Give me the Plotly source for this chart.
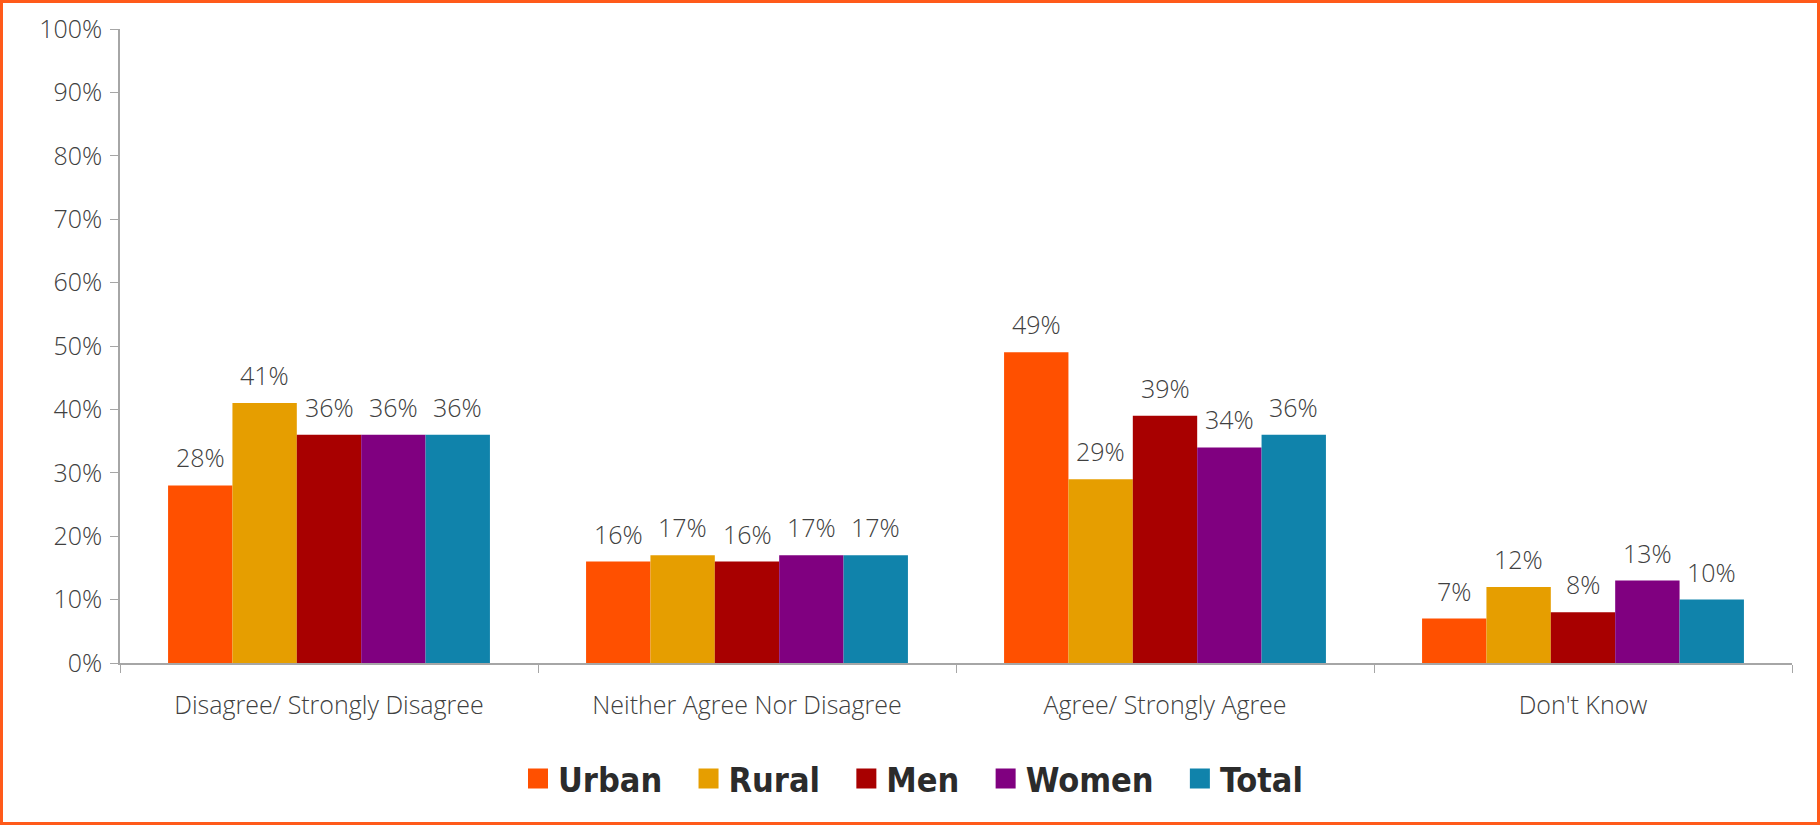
import plotly.graph_objects as go

categories = ["Disagree/ Strongly Disagree", "Neither Agree Nor Disagree", "Agree/ Strongly Agree", "Don't Know"]
series_names = ["Urban", "Rural", "Men", "Women", "Total"]
urban = [28, 16, 49, 7]
rural = [41, 17, 29, 12]
men = [36, 16, 39, 8]
women = [36, 17, 34, 13]
total = [36, 17, 36, 10]
colors = ["#FF5000", "#E69E00", "#A80000", "#800080", "#1083AB"]
y_ticks = [0, 10, 20, 30, 40, 50, 60, 70, 80, 90, 100]

W, H = 1820, 825
ml, mr, mt, mb = 120, 28, 29, 162
pw, ph = W - ml - mr, H - mt - mb
BARGAP = 0.23
LABEL_FONT = dict(family="Open Sans", size=25, color="#404040", weight=300)

all_series = [urban, rural, men, women, total]
n = len(all_series)
bar_px = pw / len(categories) * (1 - BARGAP) / n

fig = go.Figure()
for i, (name, vals, col) in enumerate(zip(series_names, all_series, colors)):
    fig.add_trace(go.Bar(
        name=name, x=categories, y=vals, marker=dict(color=col, line=dict(width=0)),
        showlegend=False, hoverinfo="x+y+name",
    ))
    # legend proxy with a larger square swatch
    fig.add_trace(go.Scatter(
        name=name + "\u00a0\u00a0", x=[None], y=[None], mode="markers",
        marker=dict(symbol="square", size=16, color=col, line=dict(color=col, width=4)),
        showlegend=True,
    ))
    for c, v in zip(categories, vals):
        fig.add_annotation(x=c, y=v, xref="x", yref="y", text=f"{v}%", showarrow=False,
                           xshift=(i - (n - 1) / 2) * bar_px, yshift=9, yanchor="bottom",
                           font=LABEL_FONT)

fig.update_layout(
    width=W, height=H, autosize=False,
    margin=dict(l=ml, r=mr, t=mt, b=mb),
    paper_bgcolor="white", plot_bgcolor="white",
    barmode="group", bargap=BARGAP, bargroupgap=0,
    showlegend=True,
    legend=dict(orientation="h", x=(924 - ml) / pw, xanchor="center",
                y=(H - mb - 779) / ph, yanchor="middle", itemsizing="trace",
                font=dict(family="DejaVu Sans Condensed", size=34, color="#2B2B2B", weight="bold"),
                traceorder="normal"),
    font=LABEL_FONT,
)
fig.update_yaxes(range=[0, 100], tickvals=y_ticks, ticktext=[f"{v}%" for v in y_ticks],
                 showgrid=False, showline=True, linecolor="#A6A6A6", linewidth=1.5,
                 ticks="outside", ticklen=8, tickcolor="#A6A6A6", ticklabelstandoff=3,
                 tickfont=LABEL_FONT, zeroline=False)
fig.update_xaxes(showgrid=False, showline=True, linecolor="#A6A6A6", linewidth=1.5,
                 ticks="outside", ticklen=8, tickcolor="#A6A6A6", tickson="boundaries",
                 ticklabelstandoff=19, tickfont=LABEL_FONT)

fig.add_shape(type="rect", xref="paper", yref="paper",
              x0=(1.5 - ml) / pw, x1=(W - 1.5 - ml) / pw,
              y0=(H - mb - (H - 1.5)) / ph, y1=(H - mb - 1.5) / ph,
              line=dict(color="#FF5A1A", width=3), fillcolor="rgba(0,0,0,0)", layer="above")

fig.write_html("out.html", config={"displayModeBar": False},
               post_script="document.body.style.margin='0px';document.body.style.overflow='hidden';")
